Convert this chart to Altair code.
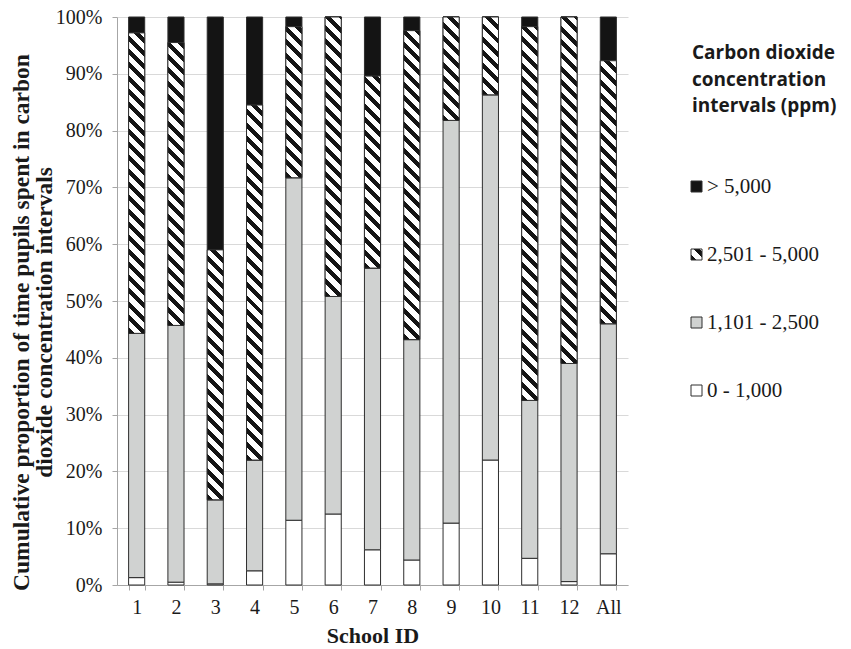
import json
import math
import altair as alt
import pandas as pd

# ---------------- data ----------------
schools = ["1", "2", "3", "4", "5", "6", "7", "8", "9", "10", "11", "12", "All"]
categories = ["0 - 1,000", "1,101 - 2,500", "2,501 - 5,000", "> 5,000"]  # bottom -> top
v_0_1000 = [1.3, 0.5, 0.2, 2.5, 11.4, 12.5, 6.2, 4.4, 10.9, 22.0, 4.7, 0.6, 5.5]
v_1101_2500 = [43.0, 45.2, 14.8, 19.5, 60.3, 38.3, 49.6, 38.8, 70.9, 64.3, 27.8, 38.4, 40.5]
v_2501_5000 = [52.9, 49.8, 44.0, 62.5, 26.6, 49.2, 33.8, 54.4, 18.2, 13.7, 65.8, 61.0, 46.3]
v_gt_5000 = [2.8, 4.5, 41.0, 15.5, 1.7, 0.0, 10.4, 2.4, 0.0, 0.0, 1.7, 0.0, 7.7]
y_ticks = [0, 10, 20, 30, 40, 50, 60, 70, 80, 90, 100]
legend_title = ["Carbon dioxide", "concentration", "intervals (ppm)"]
y_title = ["Cumulative proportion of time pupils spent in carbon",
           "dioxide concentration intervals"]
x_title = "School ID"

series = [v_0_1000, v_1101_2500, v_2501_5000, v_gt_5000]
rows = []
for ci, (cat, vals) in enumerate(zip(categories, series)):
    for s, v in zip(schools, vals):
        rows.append({"school": s, "cat": cat, "ord": ci, "value": v})
df = pd.DataFrame(rows)

# ---------------- layout ----------------
PLOT_W, PLOT_H = 511, 568
LEFT, TOP = 117, 17
TOTAL_W, TOTAL_H = 851, 649
PAD_INNER = 0.59
STEP = PLOT_W / len(schools)
BAR_W = STEP * (1 - PAD_INNER)

INK = "#141414"
GREY = "#d0d2d1"
EDGE = "#2e2e2e"
TEXT = "#1a1a1a"
SERIF = "Liberation Serif"


def hatch(w, h, period=9.4, frac=0.45):
    """Diagonal (\\) stripes as a linear gradient in the mark's bounding box."""
    L = (w + h) / math.sqrt(2)
    stops = []
    s = 0.0
    while s < L:
        a = s / L
        b = min((s + frac * period) / L, 1.0)
        c = min((s + period) / L, 1.0)
        stops += [(a, INK), (b, INK), (b, "#ffffff"), (c, "#ffffff")]
        s += period
    d = w * w + h * h
    return {
        "gradient": "linear",
        "x1": 0, "y1": 1,
        "x2": round(w * (w + h) / d, 6),
        "y2": round(1 - h * (w + h) / d, 6),
        "stops": [{"offset": round(o, 6), "color": col} for o, col in stops],
    }


legend_order = list(reversed(categories))
legend_range = [INK, {"expr": json.dumps(hatch(11, 11))}, GREY, "#ffffff"]

base = alt.Chart(df).transform_stack(
    stack="value", groupby=["school"],
    sort=[alt.SortField("ord", order="ascending")],
    as_=["y0", "y1"],
)

X = alt.X(
    "school:N", sort=schools,
    scale=alt.Scale(paddingInner=PAD_INNER, paddingOuter=PAD_INNER / 2),
    axis=alt.Axis(
        title=x_title, labelAngle=0, tickBand="extent",
        domainColor="#a6a6a6", tickColor="#a6a6a6", tickSize=5,
        labelFont=SERIF, labelFontSize=20, labelColor=TEXT, labelPadding=7,
        titleFont=SERIF, titleFontSize=22, titleFontWeight="bold", titleColor=TEXT,
        titlePadding=8, grid=False,
    ),
)
Y = alt.Y(
    "y0:Q",
    scale=alt.Scale(domain=[0, 100], nice=False),
    axis=alt.Axis(
        title=y_title, values=y_ticks, labelExpr="datum.value + '%'",
        domainColor="#a6a6a6", tickColor="#a6a6a6", tickSize=5,
        gridColor="#d9d9d9", gridWidth=1,
        labelFont=SERIF, labelFontSize=20, labelColor=TEXT, labelPadding=10,
        titleFont=SERIF, titleFontSize=23.5, titleFontWeight="bold", titleColor=TEXT,
        titleLineHeight=23, titleBaseline="alphabetic", titleAngle=-90,
        titleX=28 - LEFT, titleY=322 - TOP,
    ),
)
Y2 = alt.Y2("y1:Q")

main = base.mark_bar(stroke=EDGE, strokeWidth=1).encode(
    x=X, y=Y, y2=Y2,
    fill=alt.Fill(
        "cat:N",
        scale=alt.Scale(domain=legend_order, range=legend_range),
        legend=alt.Legend(
            title=legend_title, orient="none", legendX=575, legendY=27,
            titleFont="Open Sans", titleFontSize=19, titleFontWeight="bold",
            titleColor=TEXT, titleLineHeight=26.5, titlePadding=60,
            labelFont=SERIF, labelFontSize=21, labelColor=TEXT, labelOffset=0,
            symbolType="square", symbolSize=121, symbolStrokeColor=EDGE,
            symbolStrokeWidth=1, symbolOffset=-6, rowPadding=46, padding=0,
        ),
    ),
)

layers = [main]
for s, v in zip(schools, v_2501_5000):
    if v <= 0:
        continue
    h = v / 100 * PLOT_H
    layers.append(
        base.transform_filter(
            (alt.datum.school == s) & (alt.datum.cat == categories[2])
        ).mark_bar(fill=hatch(BAR_W, h), stroke=EDGE, strokeWidth=1).encode(
            x=X, y=Y, y2=Y2
        )
    )

chart = alt.layer(*layers).properties(
    width=PLOT_W, height=PLOT_H,
    autosize=alt.AutoSizeParams(type="none"),
    padding={"left": LEFT, "top": TOP,
             "right": TOTAL_W - LEFT - PLOT_W, "bottom": TOTAL_H - TOP - PLOT_H},
    background="#ffffff",
).configure_view(stroke=None)

chart.save("out.html", embed_options={"renderer": "svg", "actions": False})
